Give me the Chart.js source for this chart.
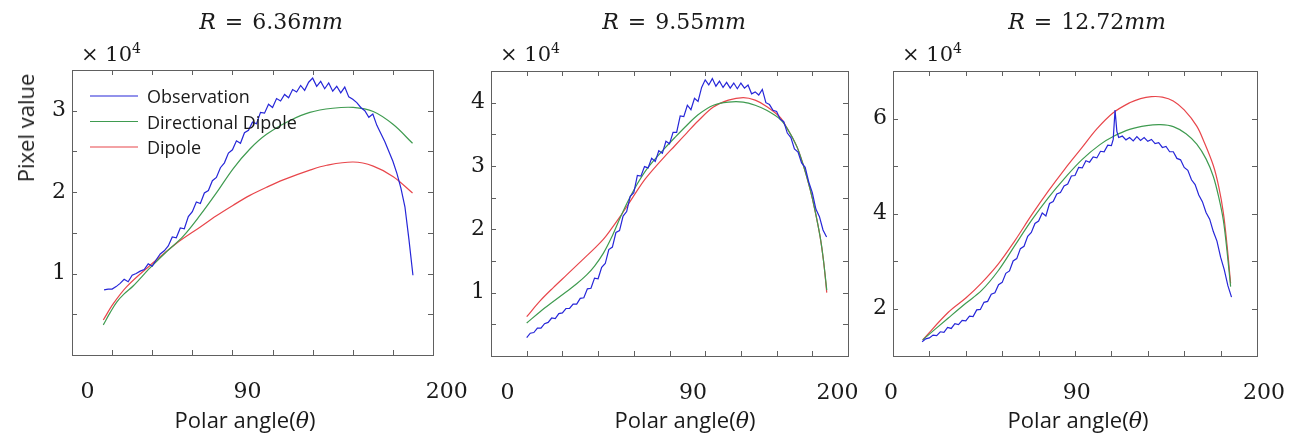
<!DOCTYPE html>
<html>
<head>
<meta charset="utf-8">
<title>Pixel value vs polar angle</title>
<script src="https://cdn.jsdelivr.net/npm/chart.js@4.4.1/dist/chart.umd.min.js"></script>
<style>
  html, body { margin: 0; padding: 0; background: #fff; }
  #wrap { position: relative; width: 1291px; height: 438px; overflow: hidden; color: #1a1a1a; }
  canvas { position: absolute; top: 0; }
  .lbl { position: absolute; white-space: nowrap; line-height: 1; transform: translate(-50%, -50%); }
  .title { font-family: "DejaVu Serif"; font-size: 22px; }
  .title .eq { margin: 0 2px; }
  .scale { font-family: "DejaVu Serif"; font-size: 21px; transform: translate(0, -50%); }
  .scale sup { font-size: 14px; vertical-align: 8px; line-height: 0; }
  .axis { font-family: "Open Sans"; font-size: 22px; }
  .axis i { font-family: "DejaVu Serif"; }
  .ytitle { transform: translate(-50%, -50%) rotate(-90deg); }
</style>
</head>
<body>
<div id="wrap"></div>
<script>
// values, pixel value in units of 10^4
const seriesNames = ['Observation', 'Directional Dipole', 'Dipole'];
const seriesColors = ['#2626d8', '#3f9b50', '#e8464b'];
const radii = ['6.36', '9.55', '12.72'];
const xTickLabels = ['0', '90', '200'];
const yTickLabels1 = [1, 2, 3];
const yTickLabels2 = [1, 2, 3, 4];
const yTickLabels3 = [2, 4, 6];

// R = 6.36mm
const obsAngle1 = [16, 18, 20, 22, 24, 26, 28, 30, 32, 34, 36, 38, 40, 42, 44, 46, 48, 50, 52, 54,
  56, 58, 60, 62, 64, 66, 68, 70, 72, 74, 76, 78, 80, 82, 84, 86, 88, 90, 92, 94,
  96, 98, 100, 102, 104, 106, 108, 110, 112, 114, 116, 118, 120, 122, 124, 126, 128, 130, 132, 134,
  136, 138, 140, 142, 144, 146, 148, 150, 152, 154, 156, 158, 160, 162, 164, 166, 168, 170];
const obsValue1 = [0.80, 0.81, 0.81, 0.84, 0.88, 0.93, 0.90, 0.98, 1.00, 1.03, 1.05, 1.12, 1.09, 1.17, 1.24, 1.28, 1.34, 1.45, 1.44, 1.56,
  1.55, 1.70, 1.76, 1.88, 1.86, 1.99, 2.02, 2.14, 2.18, 2.30, 2.36, 2.48, 2.52, 2.63, 2.60, 2.73, 2.76, 2.86, 2.84, 2.98,
  2.97, 3.08, 3.04, 3.15, 3.12, 3.20, 3.16, 3.26, 3.23, 3.31, 3.25, 3.35, 3.40, 3.30, 3.36, 3.27, 3.34, 3.24, 3.30, 3.22,
  3.29, 3.17, 3.14, 3.10, 3.04, 3.00, 2.92, 2.96, 2.82, 2.72, 2.62, 2.50, 2.38, 2.23, 2.05, 1.82, 1.42, 0.98];
const dirAngle1 = [15.6, 19, 22.3, 26, 30.6, 38.9, 47.2, 55.5, 64, 72, 80.4, 88.7, 97, 108.7, 118.6, 130, 140.2, 150.2, 160.2, 169.8];
const dirValue1 = [0.37, 0.52, 0.65, 0.75, 0.85, 1.07, 1.27, 1.46, 1.72, 1.99, 2.29, 2.53, 2.71, 2.88, 2.98, 3.03, 3.04, 2.99, 2.83, 2.60];
const dipAngle1 = [15.6, 20.6, 27.3, 38.9, 52, 63.8, 72, 80.4, 88.7, 97, 105.3, 118.6, 127, 140.2, 150.2, 160.2, 169.8];
const dipValue1 = [0.43, 0.63, 0.84, 1.10, 1.37, 1.57, 1.71, 1.84, 1.96, 2.06, 2.15, 2.27, 2.33, 2.37, 2.32, 2.19, 1.99];

// R = 9.55mm
const obsAngle2 = [20, 22, 24, 26, 28, 30, 32, 34, 36, 38, 40, 42, 44, 46, 48, 50, 52, 54, 56, 58,
  60, 62, 64, 66, 68, 70, 72, 74, 76, 78, 80, 82, 84, 86, 88, 90, 92, 94, 96, 98,
  100, 102, 104, 106, 108, 110, 112, 114, 116, 118, 120, 122, 124, 126, 128, 130, 132, 134, 136, 138,
  140, 142, 144, 146, 148, 150, 152, 154, 156, 158, 160, 162, 164, 166, 168, 170, 172, 174, 176, 178,
  180, 182, 184, 186, 188];
const obsValue2 = [0.29, 0.36, 0.37, 0.44, 0.44, 0.51, 0.53, 0.60, 0.59, 0.67, 0.68, 0.75, 0.75, 0.82, 0.82, 0.91, 0.92, 1.06, 1.07, 1.23,
  1.22, 1.40, 1.46, 1.68, 1.72, 1.95, 1.98, 2.21, 2.28, 2.52, 2.58, 2.85, 2.84, 2.99, 2.97, 3.12, 3.07, 3.24, 3.20, 3.39,
  3.35, 3.53, 3.53, 3.79, 3.78, 3.96, 3.89, 4.07, 4.02, 4.24, 4.36, 4.28, 4.38, 4.26, 4.34, 4.24, 4.32, 4.23, 4.31, 4.22,
  4.31, 4.23, 4.28, 4.14, 4.17, 4.12, 4.21, 4.00, 3.97, 3.88, 3.86, 3.74, 3.70, 3.52, 3.45, 3.27, 3.22, 3.05, 2.98, 2.75,
  2.58, 2.32, 2.20, 1.99, 1.88];
const dirAngle2 = [20, 27.5, 34.9, 42.4, 48, 53.6, 58, 62.9, 67.5, 72.3, 77, 81.6, 86, 91, 97, 103, 109.6, 116, 124.6, 133,
  141.3, 148, 154.4, 161.9, 166, 171.3, 175, 178.8, 181.5, 184.4, 186.3, 188.1];
const dirValue2 = [0.52, 0.70, 0.86, 1.02, 1.14, 1.28, 1.42, 1.62, 1.87, 2.18, 2.46, 2.70, 2.90, 3.08, 3.27, 3.45, 3.64, 3.81, 3.96, 4.01,
  4.01, 3.96, 3.88, 3.74, 3.59, 3.31, 3.01, 2.63, 2.30, 1.88, 1.50, 1.04];
const dipAngle2 = [20, 27.5, 34.9, 42.4, 48, 53.6, 58, 62.9, 67.5, 72.3, 77, 81.6, 86, 91, 97, 103, 109.6, 116, 124.6, 133,
  141.3, 148, 154.4, 161.9, 166, 171.3, 175, 178.8, 181.5, 184.4, 186.3, 188.1];
const dipValue2 = [0.62, 0.87, 1.08, 1.28, 1.43, 1.58, 1.70, 1.84, 2.01, 2.20, 2.40, 2.60, 2.78, 2.95, 3.14, 3.32, 3.52, 3.71, 3.93, 4.04,
  4.08, 4.04, 3.94, 3.77, 3.59, 3.31, 3.01, 2.63, 2.30, 1.88, 1.50, 1.00];

// R = 12.72mm
const obsAngle3 = [16, 18, 20, 22, 24, 26, 28, 30, 32, 34, 36, 38, 40, 42, 44, 46, 48, 50, 52, 54,
  56, 58, 60, 62, 64, 66, 68, 70, 72, 74, 76, 78, 80, 82, 84, 86, 88, 90, 92, 94,
  96, 98, 100, 102, 104, 106, 108, 110, 112, 114, 116, 118, 120, 121, 122, 123, 124, 126, 128, 130,
  132, 134, 136, 138, 140, 142, 144, 146, 148, 150, 152, 154, 156, 158, 160, 162, 164, 166, 168, 170,
  172, 174, 176, 178, 180, 182, 184, 186];
const obsValue3 = [1.30, 1.36, 1.38, 1.44, 1.43, 1.51, 1.50, 1.60, 1.58, 1.68, 1.66, 1.75, 1.74, 1.84, 1.83, 1.97, 1.98, 2.13, 2.15, 2.30,
  2.33, 2.50, 2.55, 2.74, 2.79, 3.00, 3.05, 3.26, 3.31, 3.52, 3.60, 3.79, 3.84, 4.01, 3.95, 4.21, 4.25, 4.41, 4.44, 4.58,
  4.62, 4.79, 4.80, 4.97, 4.96, 5.11, 5.08, 5.19, 5.17, 5.31, 5.30, 5.44, 5.43, 5.56, 6.18, 5.73, 5.60, 5.63, 5.55, 5.60,
  5.53, 5.62, 5.54, 5.60, 5.52, 5.56, 5.47, 5.49, 5.39, 5.41, 5.30, 5.30, 5.16, 5.13, 4.97, 4.91, 4.71, 4.61, 4.39, 4.25,
  4.02, 3.88, 3.62, 3.42, 3.08, 2.82, 2.48, 2.24];
const dirAngle3 = [16.3, 30.4, 40, 48.7, 57.9, 67, 76.2, 85.3, 94.5, 103.7, 113.7, 121, 130, 139.4, 147, 154, 161, 166.9, 172, 176,
  179, 181.5, 183.5, 185.5];
const dirValue3 = [1.34, 1.80, 2.11, 2.38, 2.80, 3.33, 3.86, 4.33, 4.75, 5.13, 5.45, 5.62, 5.77, 5.85, 5.87, 5.83, 5.68, 5.46, 5.15, 4.78,
  4.34, 3.86, 3.22, 2.46];
const dipAngle3 = [16.3, 30.4, 40, 48.7, 57.9, 67, 76.2, 85.3, 94.5, 103.7, 112, 121, 130, 136, 142, 148, 154, 160, 166.9, 171,
  176, 179, 181.5, 183.5, 185.5];
const dipValue3 = [1.34, 1.92, 2.22, 2.54, 2.94, 3.43, 3.97, 4.47, 4.94, 5.38, 5.78, 6.12, 6.33, 6.42, 6.46, 6.45, 6.37, 6.18, 5.84, 5.50,
  5.01, 4.56, 4.02, 3.35, 2.53];

const panelSeries = [
  [[obsAngle1, obsValue1], [dirAngle1, dirValue1], [dipAngle1, dipValue1]],
  [[obsAngle2, obsValue2], [dirAngle2, dirValue2], [dipAngle2, dipValue2]],
  [[obsAngle3, obsValue3], [dirAngle3, dirValue3], [dipAngle3, dipValue3]]
];
const panelYLabels = [yTickLabels1, yTickLabels2, yTickLabels3];

// layout of each axes box on the page
const panelBoxes = [
  { left: 72, right: 433, top: 70, bottom: 355, xMax: 180, yMin: 0, yMax: 3.5, yStep: 0.5, labelAt: [7.7, 87.5, 186.8], titleX: 271, axisX: 245 },
  { left: 491, right: 848, top: 71, bottom: 356, xMax: 200, yMin: 0, yMax: 4.5, yStep: 0.5, labelAt: [9.2, 113.2, 194.1], titleX: 674, axisX: 685 },
  { left: 893, right: 1257, top: 71, bottom: 356, xMax: 200, yMin: 1, yMax: 7, yStep: 1, labelAt: [-1.1, 100.9, 203.9], titleX: 1087, axisX: 1078 }
];
const AXIS_W = 62;
const RIGHT_PAD = 40;
const PAGE_H = 438;

Chart.defaults.font.family = 'DejaVu Serif';
Chart.defaults.color = '#1a1a1a';
Chart.defaults.animation = false;

function toPoints(xs, ys) {
  return xs.map((x, i) => ({ x: x, y: ys[i] }));
}

// box with inward tick marks on all four sides
const boxPlugin = {
  id: 'matlabBox',
  afterDatasetsDraw(chart) {
    const { ctx, chartArea: a, scales } = chart;
    ctx.save();
    ctx.strokeStyle = '#606060';
    ctx.lineWidth = 1;
    ctx.beginPath();
    scales.x.ticks.forEach(t => {
      const px = Math.round(scales.x.getPixelForValue(t.value)) + 0.5;
      if (px < a.left + 2 || px > a.right - 2) return;
      ctx.moveTo(px, a.bottom); ctx.lineTo(px, a.bottom - 5);
      ctx.moveTo(px, a.top); ctx.lineTo(px, a.top + 5);
    });
    scales.y.ticks.forEach(t => {
      const py = Math.round(scales.y.getPixelForValue(t.value)) + 0.5;
      if (py < a.top + 2 || py > a.bottom - 2) return;
      ctx.moveTo(a.left, py); ctx.lineTo(a.left + 5, py);
      ctx.moveTo(a.right, py); ctx.lineTo(a.right - 5, py);
    });
    ctx.stroke();
    ctx.strokeRect(a.left + 0.5, a.top + 0.5, a.right - a.left, a.bottom - a.top);
    ctx.restore();
  }
};

// legend drawn inside the first axes, no frame
const insideLegend = {
  id: 'insideLegend',
  afterDatasetsDraw(chart) {
    const { ctx, chartArea: a } = chart;
    ctx.save();
    ctx.font = '18px "Open Sans"';
    ctx.textBaseline = 'middle';
    ctx.fillStyle = '#1a1a1a';
    chart.data.datasets.forEach((ds, i) => {
      const y = a.top + 26 + i * 25.5;
      ctx.strokeStyle = ds.borderColor;
      ctx.lineWidth = 1.2;
      ctx.beginPath();
      ctx.moveTo(a.left + 18, y);
      ctx.lineTo(a.left + 66, y);
      ctx.stroke();
      ctx.fillText(ds.label, a.left + 75, y + 2);
    });
    ctx.restore();
  }
};

const wrap = document.getElementById('wrap');

function addLabel(cls, html, x, y) {
  const d = document.createElement('div');
  d.className = 'lbl ' + cls;
  d.innerHTML = html;
  d.style.left = x + 'px';
  d.style.top = y + 'px';
  wrap.appendChild(d);
}

panelBoxes.forEach((box, p) => {
  const canvas = document.createElement('canvas');
  const w = box.right - box.left + AXIS_W + RIGHT_PAD;
  canvas.width = w;
  canvas.height = PAGE_H;
  canvas.style.left = (box.left - AXIS_W) + 'px';
  wrap.appendChild(canvas);

  const yLabels = panelYLabels[p];
  const datasets = panelSeries[p].map((s, i) => ({
    label: seriesNames[i],
    data: toPoints(s[0], s[1]),
    borderColor: seriesColors[i],
    borderWidth: 1.2,
    pointRadius: 0,
    fill: false,
    xAxisID: 'x',
    yAxisID: 'y',
    tension: i === 0 ? 0 : 0.35
  }));

  new Chart(canvas, {
    type: 'line',
    data: { datasets: datasets },
    options: {
      responsive: false,
      devicePixelRatio: 1,
      layout: { padding: { left: 0, right: RIGHT_PAD, top: box.top, bottom: 0 } },
      plugins: { legend: { display: false }, tooltip: { enabled: false } },
      scales: {
        x: {
          type: 'linear', display: false, min: 0, max: box.xMax,
          ticks: { stepSize: 20 }
        },
        xl: {
          type: 'linear', position: 'bottom', min: 0, max: box.xMax,
          afterBuildTicks: s => { s.ticks = box.labelAt.map(v => ({ value: v })); },
          ticks: {
            autoSkip: false, maxRotation: 0, minRotation: 0, padding: 24,
            font: { family: 'DejaVu Serif', size: 22 },
            callback: (v, i) => xTickLabels[i]
          },
          grid: { display: false, drawTicks: false },
          border: { display: false },
          afterFit: s => { s.height = PAGE_H - box.bottom; s.paddingLeft = 0; s.paddingRight = 0; }
        },
        y: {
          type: 'linear', position: 'left', min: box.yMin, max: box.yMax,
          ticks: {
            stepSize: box.yStep, padding: 6,
            font: { family: 'DejaVu Serif', size: 22 },
            callback: v => yLabels.some(l => Math.abs(l - v) < 1e-6) ? String(Math.round(v)) : ''
          },
          grid: { display: false, drawTicks: false },
          border: { display: false },
          afterFit: s => { s.width = AXIS_W; }
        }
      }
    },
    plugins: p === 0 ? [boxPlugin, insideLegend] : [boxPlugin]
  });

  addLabel('title', '<i>R</i> <span class="eq">=</span> ' + radii[p] + '<i>mm</i>', box.titleX, 22);
  addLabel('scale', '&times; 10<sup>4</sup>', box.left + 9, 54);
  addLabel('axis', 'Polar angle(<i>&theta;</i>)', box.axisX, 420);
});

addLabel('axis ytitle', 'Pixel value', 25, 128);
</script>
</body>
</html>
